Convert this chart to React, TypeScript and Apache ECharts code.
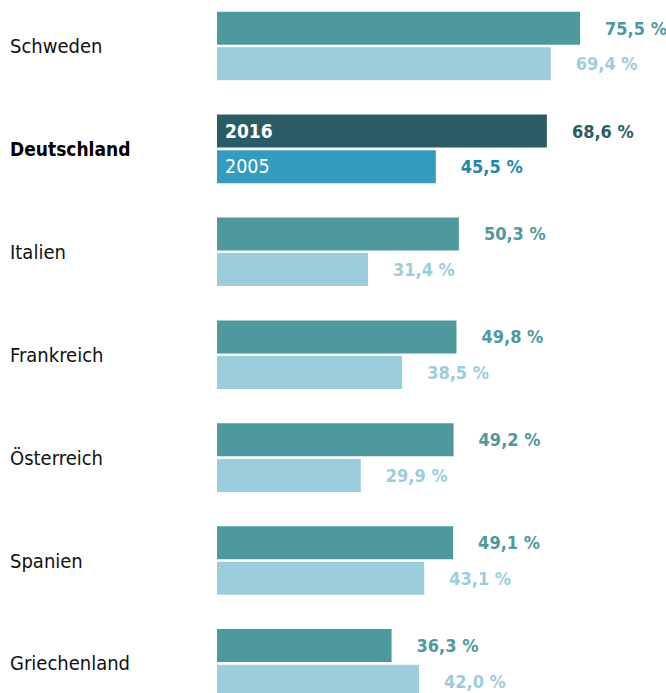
import React, { useEffect, useRef } from 'react';
import * as echarts from 'echarts';

const countries = ['Schweden', 'Deutschland', 'Italien', 'Frankreich', 'Österreich', 'Spanien', 'Griechenland'];
const values2016 = [75.5, 68.6, 50.3, 49.8, 49.2, 49.1, 36.3];
const values2005 = [69.4, 45.5, 31.4, 38.5, 29.9, 43.1, 42.0];
const highlight = 'Deutschland';
const yearLabels = ['2016', '2005'];

const CAT_FONT = '"DejaVu Sans Condensed", "Liberation Sans Narrow", "Roboto", sans-serif';
const VAL_FONT = '"DejaVu Sans Condensed", "Liberation Sans Narrow", "Roboto", sans-serif';

const C_TEAL = '#4e999e';
const C_LIGHT = '#9ccddd';
const C_DARK = '#2a5d63';
const C_BLUE = '#349bc1';
const C_BLUE_LABEL = '#1f86b0';

// The chart box extends slightly past the window so bands line up with the reference
const BOX_TOP = -8;
const BOX_HEIGHT = 730;

const fmt = (v: number) => v.toFixed(1).replace('.', ',') + ' %';

export default function App() {
  const ref = useRef<HTMLDivElement>(null);
  useEffect(() => {
    if (!ref.current) return;
    const chart = echarts.init(ref.current, null, { renderer: 'svg' });
    const hi = countries.indexOf(highlight);

    const valueLabel = (color: string) => ({
      show: true,
      position: 'right',
      distance: 25,
      color,
      fontFamily: VAL_FONT,
      fontWeight: 'bold',
      fontSize: 18,
      formatter: (p: any) => fmt(p.value),
    });

    const tagSeries = (name: string, stack: string, bold: boolean) => ({
      type: 'bar',
      name: name + '-tag',
      stack,
      z: 10,
      barWidth: 33,
      barGap: '8%',
      silent: true,
      itemStyle: { color: 'transparent' },
      label: { show: false },
      data: countries.map((c, i) =>
        i === hi
          ? {
              value: 0,
              label: {
                show: true,
                position: 'right',
                distance: 8,
                color: '#ffffff',
                fontFamily: CAT_FONT,
                fontWeight: bold ? 'bold' : 'normal',
                fontSize: bold ? 19 : 19.5,
                formatter: name,
              },
            }
          : 0
      ),
    });

    chart.setOption({
      animation: false,
      grid: { left: 217, top: -5.45 - BOX_TOP, width: 80 * 4.809, height: 720.3, containLabel: false },
      xAxis: { type: 'value', min: 0, max: 80, show: false },
      yAxis: {
        type: 'category',
        data: countries,
        inverse: true,
        axisLine: { show: false },
        axisTick: { show: false },
        splitLine: { show: false },
        axisLabel: {
          align: 'left',
          margin: 207,
          formatter: (v: string) => (v === highlight ? `{b|${v}}` : `{n|${v}}`),
          rich: {
            n: { fontFamily: CAT_FONT, fontSize: 20, color: '#111111' },
            b: { fontFamily: CAT_FONT, fontSize: 19, fontWeight: 'bold', color: '#000000' },
          },
        },
      },
      series: [
        tagSeries(yearLabels[0], 'A', true),
        {
          type: 'bar',
          name: yearLabels[0],
          stack: 'A',
          barWidth: 33,
          barGap: '8%',
          itemStyle: { color: C_TEAL },
          label: valueLabel(C_TEAL),
          data: values2016.map((v, i) =>
            i === hi
              ? { value: v, itemStyle: { color: C_DARK }, label: { color: C_DARK } }
              : v
          ),
        },
        tagSeries(yearLabels[1], 'B', false),
        {
          type: 'bar',
          name: yearLabels[1],
          stack: 'B',
          barWidth: 33,
          barGap: '8%',
          itemStyle: { color: C_LIGHT },
          label: valueLabel(C_LIGHT),
          data: values2005.map((v, i) =>
            i === hi
              ? { value: v, itemStyle: { color: C_BLUE }, label: { color: C_BLUE_LABEL } }
              : v
          ),
        },
      ],
    });
    return () => chart.dispose();
  }, []);

  return (
    <div
      ref={ref}
      style={{ position: 'fixed', left: 0, top: BOX_TOP, width: 666, height: BOX_HEIGHT, background: '#ffffff' }}
    />
  );
}
